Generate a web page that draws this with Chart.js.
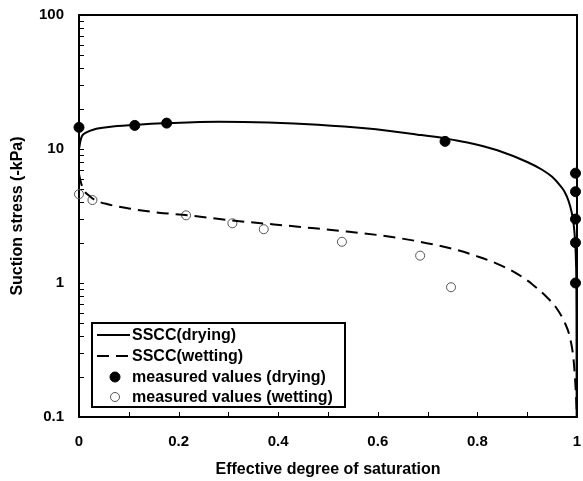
<!DOCTYPE html>
<html>
<head>
<meta charset="utf-8">
<script src="https://cdn.jsdelivr.net/npm/chart.js@4"></script>
<style>
  html, body { margin: 0; padding: 0; background: #fff; }
  #wrap { width: 583px; height: 481px; }
</style>
</head>
<body>
<div id="wrap"><canvas id="chart" width="583" height="481"></canvas></div>
<script>
// ---- data ----
// SSCC curve, drying branch
const dryCurveX = [0, 0.003, 0.006, 0.015, 0.03, 0.06, 0.11, 0.18, 0.28, 0.38, 0.48, 0.58, 0.68, 0.735, 0.78, 0.84, 0.9, 0.93, 0.95, 0.965, 0.975, 0.983, 0.989, 0.993, 0.996, 0.998, 0.999, 0.9993];
const dryCurveY = [10, 11.5, 12.5, 13.3, 14.0, 14.6, 15.1, 15.6, 16.0, 15.8, 15.2, 14.2, 12.8, 12.0, 11.2, 9.8, 8.0, 7.0, 6.2, 5.4, 4.8, 4.1, 3.4, 2.8, 2.1, 1.4, 0.6, 0.1];
// SSCC curve, wetting branch
const wetCurveX = [0, 0.004, 0.01, 0.02, 0.03, 0.06, 0.1, 0.16, 0.22, 0.3, 0.44, 0.53, 0.6, 0.67, 0.72, 0.76, 0.8, 0.84, 0.88, 0.91, 0.94, 0.96, 0.975, 0.986, 0.993, 0.997, 1.0];
const wetCurveY = [6.5, 5.6, 4.9, 4.5, 4.2, 3.85, 3.6, 3.35, 3.2, 2.95, 2.63, 2.44, 2.28, 2.08, 1.91, 1.76, 1.58, 1.39, 1.17, 0.98, 0.78, 0.64, 0.51, 0.39, 0.27, 0.17, 0.1];
// measured values
const dryPtsX = [0, 0.112, 0.176, 0.735, 0.997, 0.997, 0.997, 0.997, 0.997];
const dryPtsY = [14.5, 15.0, 15.6, 11.4, 6.6, 4.8, 3.0, 2.0, 1.0];
const wetPtsX = [0, 0.027, 0.215, 0.308, 0.371, 0.528, 0.685, 0.747];
const wetPtsY = [4.6, 4.16, 3.2, 2.79, 2.52, 2.03, 1.6, 0.93];

// axes
const yMajorTicks = [0.1, 1, 10, 100];
const yMinorTicks = [0.1, 1, 10].flatMap(d => [2, 3, 4, 5, 6, 7, 8, 9].map(m => +(m * d).toPrecision(3)));
const xMinorTicks = [0.1, 0.2, 0.3, 0.4, 0.5, 0.6, 0.7, 0.8, 0.9];
const seriesLabels = ['SSCC(drying)', 'SSCC(wetting)', 'measured values (drying)', 'measured values (wetting)'];

const FONT = "'Liberation Sans', Arial, sans-serif";
const pts = (xs, ys) => xs.map((x, i) => ({ x, y: ys[i] }));

/* white page behind the canvas */
const bgPlugin = {
    id: 'bg',
    beforeDraw(chart) {
        const { ctx, width, height } = chart;
        ctx.save();
        ctx.fillStyle = '#fff';
        ctx.fillRect(0, 0, width, height);
        ctx.restore();
    }
};

/* frame + inward ticks, like the original plot */
const framePlugin = {
    id: 'frame',
    beforeDatasetsDraw(chart) {
        const { ctx, chartArea: a, scales: { x, y } } = chart;
        ctx.save();
        ctx.strokeStyle = '#000';
        ctx.lineWidth = 1;
        ctx.beginPath();
        yMinorTicks.concat(yMajorTicks).forEach(v => {
            const py = Math.round(y.getPixelForValue(v)) + 0.5;
            ctx.moveTo(a.left, py);
            ctx.lineTo(a.left + 5, py);
        });
        xMinorTicks.forEach(v => {
            const px = Math.round(x.getPixelForValue(v)) + 0.5;
            ctx.moveTo(px, a.bottom);
            ctx.lineTo(px, a.bottom - 5);
        });
        ctx.stroke();
        ctx.lineWidth = 2;
        ctx.strokeRect(a.left, a.top, a.right - a.left, a.bottom - a.top);
        ctx.restore();
    }
};

/* boxed legend in the lower left corner of the plot */
const legendBox = {
    id: 'legendBox',
    afterDraw(chart) {
        const { ctx, chartArea: a } = chart;
        const left = a.left + 13, top = a.bottom - 94, w = 253, h = 84;
        const rows = [12, 33, 54, 74];
        ctx.save();
        ctx.fillStyle = '#fff';
        ctx.fillRect(left, top, w, h);
        ctx.strokeStyle = '#000';
        ctx.lineWidth = 2;
        ctx.strokeRect(left, top, w, h);
        chart.data.datasets.forEach((ds, i) => {
            const cy = top + rows[i];
            if (ds.showLine) {
                ctx.beginPath();
                ctx.setLineDash(ds.borderDash || []);
                ctx.lineWidth = ds.borderWidth;
                ctx.strokeStyle = ds.borderColor;
                ctx.moveTo(left + 5, cy);
                ctx.lineTo(left + 38, cy);
                ctx.stroke();
                ctx.setLineDash([]);
            } else {
                ctx.beginPath();
                ctx.arc(left + 23, cy, ds.pointRadius, 0, Math.PI * 2);
                ctx.fillStyle = ds.pointBackgroundColor;
                ctx.fill();
                ctx.lineWidth = ds.pointBorderWidth;
                ctx.strokeStyle = ds.pointBorderColor;
                ctx.stroke();
            }
            ctx.fillStyle = '#000';
            ctx.font = `bold 16px ${FONT}`;
            ctx.textBaseline = 'middle';
            ctx.fillText(ds.label, left + 40, cy + 1);
        });
        ctx.restore();
    }
};

new Chart(document.getElementById('chart'), {
    type: 'scatter',
    data: {
        datasets: [
            { label: seriesLabels[0], data: pts(dryCurveX, dryCurveY), showLine: true, borderColor: '#000', borderWidth: 2, pointRadius: 0, cubicInterpolationMode: 'monotone' },
            { label: seriesLabels[1], data: pts(wetCurveX, wetCurveY), showLine: true, borderColor: '#000', borderWidth: 2, borderDash: [12, 7], pointRadius: 0, cubicInterpolationMode: 'monotone' },
            { label: seriesLabels[2], data: pts(dryPtsX, dryPtsY), showLine: false, pointRadius: 5, pointBackgroundColor: '#000', pointBorderColor: '#000', pointBorderWidth: 1, clip: false },
            { label: seriesLabels[3], data: pts(wetPtsX, wetPtsY), showLine: false, pointRadius: 4.5, pointBackgroundColor: 'rgba(0,0,0,0)', pointBorderColor: '#555', pointBorderWidth: 1, clip: false }
        ]
    },
    options: {
        responsive: false,
        animation: false,
        layout: { padding: { top: 15, right: 3, left: 0, bottom: 0 } },
        plugins: { legend: { display: false }, tooltip: { enabled: false } },
        scales: {
            x: {
                type: 'linear', min: 0, max: 1,
                grid: { display: false, drawTicks: false }, border: { display: false },
                ticks: {
                    stepSize: 0.2, autoSkip: false, maxRotation: 0, padding: 16,
                    color: '#000', font: { family: FONT, size: 15, weight: 'bold' },
                    callback: v => String(+v.toFixed(1))
                },
                title: { display: true, text: 'Effective degree of saturation', color: '#000', font: { family: FONT, size: 16, weight: 'bold' }, padding: { top: 0, bottom: 2 } },
                afterFit: s => { s.height = 64; s.paddingLeft = 0; s.paddingRight = 0; }
            },
            y: {
                type: 'logarithmic', min: 0.1, max: 100,
                grid: { display: false, drawTicks: false }, border: { display: false },
                ticks: {
                    autoSkip: false, padding: 15,
                    color: '#000', font: { family: FONT, size: 15, weight: 'bold' },
                    callback: v => yMajorTicks.some(t => Math.abs(t - v) < 1e-9) ? String(v) : ''
                },
                title: { display: true, text: 'Suction stress (-kPa)', color: '#000', font: { family: FONT, size: 16, weight: 'bold' }, padding: { top: 8, bottom: 0 } },
                afterFit: s => { s.width = 79; s.paddingTop = 0; s.paddingBottom = 0; }
            }
        }
    },
    plugins: [bgPlugin, framePlugin, legendBox]
});
</script>
</body>
</html>
